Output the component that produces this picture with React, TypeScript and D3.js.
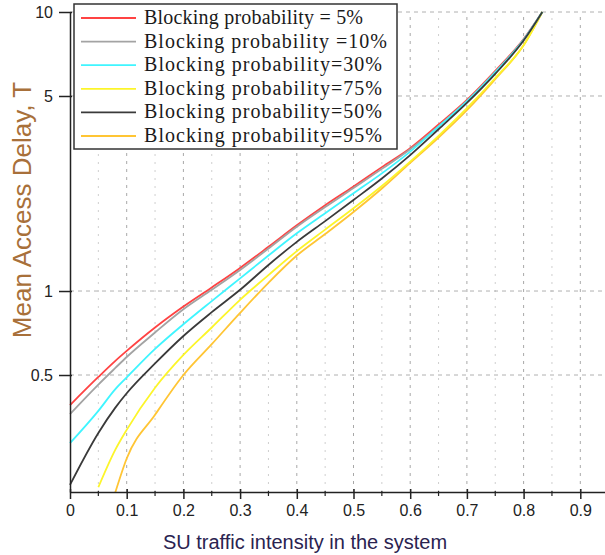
import React, { useEffect, useRef } from "react";
import * as d3 from "d3";

// SU traffic intensity (x) and mean access delay T (y, log) per blocking probability
const trafficX = [0, 0.05, 0.08, 0.1, 0.15, 0.2, 0.25, 0.3, 0.35, 0.4, 0.45, 0.5, 0.55, 0.6, 0.65, 0.7, 0.75, 0.8, 0.833];
const delay5 = [0.39, 0.492, 0.562, 0.61, 0.74, 0.88, 1.03, 1.21, 1.44, 1.72, 2.03, 2.37, 2.78, 3.25, 3.95, 4.84, 6.15, 8.0, 10];
const delay10 = [0.362, 0.462, 0.53, 0.58, 0.71, 0.86, 1.01, 1.19, 1.42, 1.7, 2.0, 2.34, 2.74, 3.22, 3.9, 4.8, 6.1, 7.95, 10];
const delay30 = [0.285, 0.372, 0.445, 0.49, 0.62, 0.76, 0.92, 1.11, 1.34, 1.61, 1.9, 2.24, 2.64, 3.16, 3.88, 4.78, 6.08, 7.95, 10];
const delay75 = [null, 0.198, 0.27, 0.318, 0.45, 0.59, 0.74, 0.93, 1.14, 1.39, 1.66, 1.98, 2.38, 2.91, 3.6, 4.52, 5.8, 7.6, 10];
const delay50 = [0.202, 0.31, 0.382, 0.43, 0.55, 0.69, 0.84, 1.01, 1.24, 1.5, 1.78, 2.12, 2.53, 3.07, 3.8, 4.72, 6.0, 7.9, 10];
const delay95 = [null, null, 0.19, 0.251, 0.36, 0.5, 0.645, 0.835, 1.07, 1.34, 1.6, 1.92, 2.33, 2.88, 3.55, 4.45, 5.75, 7.6, 10];

const legendLabels = [
    "Blocking probability = 5%",
    "Blocking probability =10%",
    "Blocking probability=30%",
    "Blocking probability=75%",
    "Blocking probability=50%",
    "Blocking probability=95%",
];
const xTicks = [0, 0.1, 0.2, 0.3, 0.4, 0.5, 0.6, 0.7, 0.8, 0.9];
const xMinorTicks = [0.05, 0.15, 0.25, 0.35, 0.45, 0.55, 0.65, 0.75, 0.85, 0.95];
const yTicks = [0.5, 1, 5, 10];

// styles per series (same order as legend)
const seriesColors = ["#ff4343", "#a3a3a3", "#3ff5ff", "#fcf52a", "#3a3a3a", "#ffc534"];
const legendWidths = [219, 243, 238, 238, 238, 238];
const drawOrder = [0, 1, 5, 3, 2, 4];

const App: React.FC = () => {
    const svgRef = useRef<SVGSVGElement | null>(null);

    useEffect(() => {
        document.body.style.margin = "0";
        if (!svgRef.current) return;
        const width = 605;
        const height = 555;
        const svg = d3.select(svgRef.current);
        svg.selectAll("*").remove();
        svg.attr("width", width).attr("height", height);

        const x = d3.scaleLinear().domain([0, 1]).range([70, 637]);
        const y = d3.scaleLog().domain([0.1904, 10]).range([492, 12]);

        const series = [delay5, delay10, delay30, delay75, delay50, delay95];

        // grid
        const grid = svg.append("g");
        grid.selectAll("line.vmin")
            .data(xMinorTicks)
            .enter()
            .append("line")
            .attr("x1", (d) => x(d)).attr("x2", (d) => x(d))
            .attr("y1", y(0.1904)).attr("y2", y(10))
            .attr("stroke", "#cfcfcf")
            .attr("stroke-width", 1)
            .attr("stroke-dasharray", "2,6");
        grid.selectAll("line.vmaj")
            .data(xTicks.slice(1))
            .enter()
            .append("line")
            .attr("x1", (d) => x(d)).attr("x2", (d) => x(d))
            .attr("y1", y(0.1904)).attr("y2", y(10))
            .attr("stroke", "#a8a8a8")
            .attr("stroke-width", 1)
            .attr("stroke-dasharray", "3,5");
        grid.selectAll("line.h")
            .data(yTicks)
            .enter()
            .append("line")
            .attr("x1", 70).attr("x2", width)
            .attr("y1", (d) => y(d)).attr("y2", (d) => y(d))
            .attr("stroke", "#b0b0b0")
            .attr("stroke-width", 1)
            .attr("stroke-dasharray", "4,4");

        // curves
        const line = d3.line<[number, number | null]>()
            .defined((d) => d[1] !== null)
            .x((d) => x(d[0]))
            .y((d) => y(d[1] as number))
            .curve(d3.curveMonotoneX);

        drawOrder.forEach((i) => {
            const pts = trafficX.map((t, k) => [t, series[i][k]] as [number, number | null]);
            svg.append("path")
                .datum(pts)
                .attr("fill", "none")
                .attr("stroke", seriesColors[i])
                .attr("stroke-width", 1.8)
                .attr("d", line);
        });

        // axes
        const xAxis = svg.append("g")
            .attr("transform", `translate(0,${y(0.1904)})`)
            .call(d3.axisBottom(x).tickValues(xTicks).tickFormat(d3.format("")).tickSizeInner(7).tickSizeOuter(0));
        xAxis.select(".domain").attr("stroke", "#222").attr("stroke-width", 1.5);
        xAxis.selectAll(".tick line").attr("stroke", "#222").attr("stroke-width", 1.5).attr("y1", -3);
        xAxis.selectAll("text")
            .attr("y", 13)
            .style("font-family", "'Liberation Sans', Arial, sans-serif")
            .style("font-size", "16px")
            .attr("fill", "#222");
        svg.append("g")
            .selectAll("line")
            .data(xMinorTicks)
            .enter()
            .append("line")
            .attr("x1", (d) => x(d)).attr("x2", (d) => x(d))
            .attr("y1", y(0.1904) - 1).attr("y2", y(0.1904) + 4)
            .attr("stroke", "#222")
            .attr("stroke-width", 1.2);

        const yAxis = svg.append("g")
            .attr("transform", `translate(70,0)`)
            .call(d3.axisLeft(y).tickValues(yTicks).tickFormat(d3.format("")).tickSizeInner(11).tickSizeOuter(0));
        yAxis.select(".domain").attr("stroke", "#222").attr("stroke-width", 1.5);
        yAxis.selectAll(".tick line").attr("stroke", "#222").attr("stroke-width", 1.5).attr("x2", 2).attr("x1", -11);
        yAxis.selectAll("text")
            .attr("x", -17)
            .style("font-family", "'Liberation Sans', Arial, sans-serif")
            .style("font-size", "16px")
            .attr("fill", "#222");

        // axis titles
        svg.append("text")
            .attr("x", 305)
            .attr("y", 549)
            .attr("text-anchor", "middle")
            .style("font-family", "'Liberation Sans', Arial, sans-serif")
            .style("font-size", "20px")
            .attr("fill", "#2a2350")
            .text("SU traffic intensity in the system");
        svg.append("text")
            .attr("transform", "translate(31,210) rotate(-90)")
            .attr("text-anchor", "middle")
            .style("font-family", "'Liberation Sans', Arial, sans-serif")
            .style("font-size", "26px")
            .attr("fill", "#a8703a")
            .text("Mean Access Delay, T");

        // legend
        const legend = svg.append("g");
        legend.append("rect")
            .attr("x", 74).attr("y", 4)
            .attr("width", 323).attr("height", 145)
            .attr("fill", "#fff")
            .attr("stroke", "#333")
            .attr("stroke-width", 1.5);
        const rowY = d3.scaleLinear().domain([0, 5]).range([18, 136]);
        legendLabels.forEach((label, i) => {
            legend.append("line")
                .attr("x1", 81).attr("x2", 136)
                .attr("y1", rowY(i)).attr("y2", rowY(i))
                .attr("stroke", seriesColors[i])
                .attr("stroke-width", 1.8);
            legend.append("text")
                .attr("x", 144)
                .attr("y", rowY(i) + 6)
                .attr("textLength", legendWidths[i])
                .attr("lengthAdjust", "spacing")
                .style("font-family", "'Liberation Serif', 'Times New Roman', serif")
                .style("font-size", "20px")
                .attr("fill", "#1a1a1a")
                .text(label);
        });
    }, []);

    return <svg ref={svgRef}></svg>;
};

export default App;
